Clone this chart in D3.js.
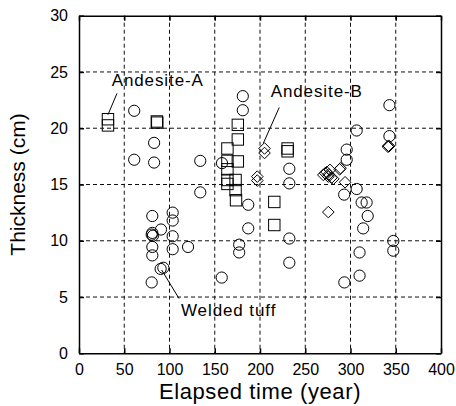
<!DOCTYPE html>
<html>
<head>
<meta charset="utf-8">
<script src="https://cdn.jsdelivr.net/npm/d3@7"></script>
<style>
  html, body { margin: 0; padding: 0; background: #fff; }
  svg { display: block; font-family: "Liberation Sans", Arial, sans-serif; }
</style>
</head>
<body>
<svg id="chart" width="456" height="406"></svg>
<script>
// Welded tuff (circles)
const tuffYear = [61, 83, 61, 83, 134, 134, 158, 181, 181,
  81, 103.5, 103.5, 90.6, 81, 80.3, 81.7, 103.5, 81, 103.5, 81, 90.2, 93.2, 80.3, 120.5, 157.7,
  187, 187, 177, 177, 232.4, 232.4, 232.4, 232.4,
  306.8, 295.8, 295.8, 306.8, 293, 312.3, 317.8, 319, 314, 310, 310, 293.2,
  343, 343, 347.3, 347.3];
const tuffThick = [21.55, 18.7, 17.2, 16.95, 17.1, 14.3, 16.9, 22.85, 21.6,
  12.2, 12.5, 11.8, 11.0, 10.7, 10.55, 10.45, 10.4, 9.45, 9.25, 8.7, 7.5, 7.6, 6.3, 9.45, 6.73,
  13.2, 11.1, 9.65, 8.96, 16.4, 15.1, 10.2, 8.05,
  19.8, 18.1, 17.2, 14.6, 14.1, 13.4, 13.4, 12.2, 11.1, 8.96, 6.9, 6.3,
  22.05, 19.3, 9.98, 9.12];

// Andesite-A (squares)
const andAYear = [32, 32, 86, 86.5, 164, 164, 164, 164, 164, 173, 173, 175.5, 175.5, 175.5, 173.5,
  215.8, 215.8, 230.5, 230.5];
const andAThick = [20.8, 20.25, 20.6, 20.5, 18.2, 17.1, 16.35, 15.4, 15.05, 15.4, 14.5, 20.3, 19.0, 17.05, 13.6,
  13.45, 11.4, 18.2, 17.95];

// Andesite-B (diamonds)
const andBYear = [205, 205, 197, 197, 270, 272, 273.7, 275.5, 277.3, 276, 279, 281, 288, 289, 294, 275.5,
  341.5, 342, 342.5];
const andBThick = [18.2, 17.8, 15.7, 15.35, 15.85, 16.0, 16.1, 15.7, 16.3, 15.9, 15.6, 15.5, 16.35, 16.45, 15.2, 12.55,
  18.35, 18.45, 18.4];

const xTicks = [0, 50, 100, 150, 200, 250, 300, 350, 400];
const yTicks = [0, 5, 10, 15, 20, 25, 30];

// Callout labels: text anchor and leader line ends, in data units
const labels = [
  { text: "Andesite-A", tx: 36.1, ty: 23.75, x1: 42, y1: 23.1, x2: 32, y2: 21.2 },
  { text: "Andesite-B", tx: 211.8, ty: 22.74, x1: 221.3, y1: 21.85, x2: 203.6, y2: 18.65 },
  { text: "Welded tuff", tx: 112.7, ty: 3.29, x1: 91.4, y1: 7.4, x2: 110.5, y2: 4.87 }
];

const svg = d3.select("#chart");
const pL = 79, pR = 441, pT = 15.7, pB = 353.3;

const x = d3.scaleLinear().domain([0, 400]).range([pL, pR]);
const y = d3.scaleLinear().domain([0, 30]).range([pB, pT]);

// dashed grid
const grid = svg.append("g").attr("stroke", "#111").attr("stroke-width", 1)
  .attr("stroke-dasharray", "4,3");
grid.selectAll("line.v").data(xTicks.slice(1, -1)).join("line").attr("class", "v")
  .attr("x1", d => x(d)).attr("x2", d => x(d))
  .attr("y1", pT).attr("y2", pB);
grid.selectAll("line.h").data(yTicks.slice(1, -1)).join("line").attr("class", "h")
  .attr("y1", d => y(d)).attr("y2", d => y(d))
  .attr("x1", pL).attr("x2", pR);

// axes with inward ticks on all four sides
const fs = 16;
const xAxis = svg.append("g").attr("transform", `translate(0,${pB})`)
  .call(d3.axisBottom(x).tickValues(xTicks).tickSizeInner(-5).tickSizeOuter(0).tickPadding(12));
const yAxis = svg.append("g").attr("transform", `translate(${pL},0)`)
  .call(d3.axisLeft(y).tickValues(yTicks).tickSizeInner(-5).tickSizeOuter(0).tickPadding(11));
const xTop = svg.append("g").attr("transform", `translate(0,${pT})`)
  .call(d3.axisTop(x).tickValues(xTicks).tickSizeInner(-5).tickSizeOuter(0).tickFormat(""));
const yRight = svg.append("g").attr("transform", `translate(${pR},0)`)
  .call(d3.axisRight(y).tickValues(yTicks).tickSizeInner(-5).tickSizeOuter(0).tickFormat(""));

[xAxis, yAxis, xTop, yRight].forEach(g => {
  g.select(".domain").attr("stroke", "#000").attr("stroke-width", 1.5);
  g.selectAll(".tick line").attr("stroke", "#000").attr("stroke-width", 1.5);
  g.selectAll("text").attr("font-size", fs).attr("fill", "#000")
    .attr("font-family", "Liberation Sans, Arial, sans-serif");
});
xAxis.selectAll(".tick text").attr("dy", null).attr("y", 21.5);

// axis titles
svg.append("text").attr("x", (pL + pR) / 2).attr("y", 399)
  .attr("text-anchor", "middle").attr("font-size", 22).attr("letter-spacing", 0.6)
  .text("Elapsed time (year)");
svg.append("text").attr("transform", `translate(25,${(pT + pB) / 2}) rotate(-90)`)
  .attr("text-anchor", "middle").attr("font-size", 21)
  .text("Thickness (cm)");

// markers
const marks = svg.append("g").attr("fill", "none").attr("stroke", "#000").attr("stroke-width", 1);

const tuff = d3.zip(tuffYear, tuffThick);
marks.selectAll("circle").data(tuff).join("circle")
  .attr("cx", d => x(d[0])).attr("cy", d => y(d[1])).attr("r", 5.6);

const sq = 11.4;
const andA = d3.zip(andAYear, andAThick);
marks.selectAll("rect").data(andA).join("rect")
  .attr("x", d => x(d[0]) - sq / 2).attr("y", d => y(d[1]) - sq / 2)
  .attr("width", sq).attr("height", sq);

const dg = 5.8;
const andB = d3.zip(andBYear, andBThick);
marks.selectAll("path").data(andB).join("path")
  .attr("d", d => {
    const cx = x(d[0]), cy = y(d[1]);
    return `M${cx},${cy - dg}L${cx + dg},${cy}L${cx},${cy + dg}L${cx - dg},${cy}Z`;
  });

// callouts
const notes = svg.append("g");
notes.selectAll("line").data(labels).join("line")
  .attr("x1", d => x(d.x1)).attr("y1", d => y(d.y1))
  .attr("x2", d => x(d.x2)).attr("y2", d => y(d.y2))
  .attr("stroke", "#000").attr("stroke-width", 1);
notes.selectAll("text").data(labels).join("text")
  .attr("x", d => x(d.tx)).attr("y", d => y(d.ty))
  .attr("font-size", 17).attr("letter-spacing", 0.9)
  .attr("fill", "#000")
  .text(d => d.text);
</script>
</body>
</html>
